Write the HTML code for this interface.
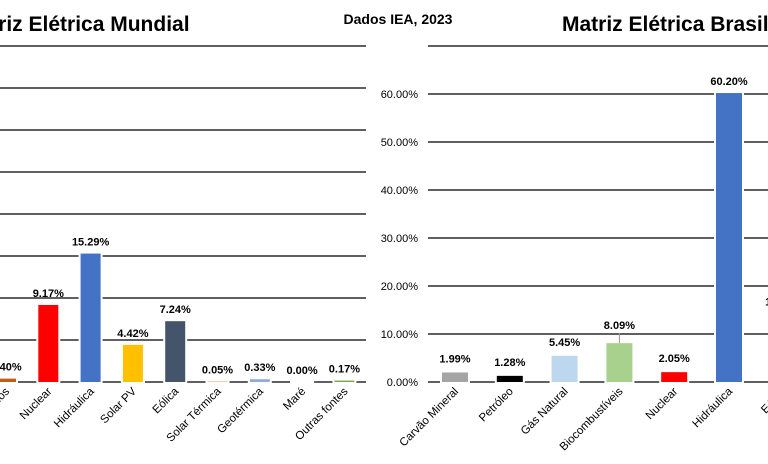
<!DOCTYPE html>
<html><head><meta charset="utf-8"><style>
html,body{margin:0;padding:0;background:#fff;}
svg{display:block;font-family:"Liberation Sans",sans-serif;}
</style></head><body>
<svg id="c" width="768" height="464" viewBox="0 0 768 464">
<text x="-38" y="31" font-size="21" font-weight="bold">Matriz Elétrica Mundial</text>
<text x="398" y="24" font-size="14" font-weight="bold" text-anchor="middle">Dados IEA, 2023</text>
<text x="562" y="31" font-size="21" font-weight="bold">Matriz Elétrica Brasil</text>
<g id="left"></g><g id="right"></g>
</svg>
<script>
const worldCats=["Resíduos","Nuclear","Hidráulica","Solar PV","Eólica","Solar Térmica","Geotérmica","Maré","Outras fontes"];
const worldVals=[0.40,9.17,15.29,4.42,7.24,0.05,0.33,0.00,0.17];
const worldColors=["#c55a11","#ff0000","#4472c4","#ffc000","#44546a","#ed7d31","#8faadc","#5b9bd5","#70ad47"];
const worldGrid=[0,5,10,15,20,25,30,35,40];
const brCats=["Carvão Mineral","Petróleo","Gás Natural","Biocombustíveis","Nuclear","Hidráulica","Eólica"];
const brVals=[1.99,1.28,5.45,8.09,2.05,60.20,13.20];
const brColors=["#a5a5a5","#000000","#bdd7ee","#a9d18e","#ff0000","#4472c4","#ffc000"];
const brTicks=[0,10,20,30,40,50,60,70];
const NS="http://www.w3.org/2000/svg";
function mk(p,t,a){const e=document.createElementNS(NS,t);for(const k in a)e.setAttribute(k,a[k]);p.appendChild(e);return e;}
const L=document.getElementById('left'),R=document.getElementById('right');
const ly=v=>382-v*8.4, lx=i=>6+42.3*i;
const ry=v=>382-v*4.8, rx=i=>455+54.8*i;
worldGrid.forEach(g=>{const l=mk(L,'line',{x1:0,x2:366,y1:ly(g),y2:ly(g),stroke:'#000','stroke-width':1.3});

});
worldVals.forEach((v,i)=>{const x=lx(i);
mk(L,'rect',{x:x-12,y:ly(v)-1,width:24,height:v*8.4+3,fill:'#fff'});
const b=mk(L,'rect',{x:x-10,y:ly(v),width:20,height:Math.max(v*8.4,0),fill:worldColors[i]});


const t=mk(L,'text',{x:x,y:ly(v)-8,'font-size':11,'font-weight':'bold','text-anchor':'middle'});t.textContent=worldVals[i].toFixed(2)+'%';


const c=mk(L,'text',{x:x+4,y:392,'font-size':11.5,'text-anchor':'end',transform:`rotate(-45 ${x+4} 392)`});c.textContent=worldCats[i];

});
brTicks.forEach(g=>{const l=mk(R,'line',{x1:428,x2:768,y1:ry(g),y2:ry(g),stroke:'#000','stroke-width':1.3});


if(g<70){const t=mk(R,'text',{x:418,y:ry(g)+4,'font-size':11,'text-anchor':'end'});t.textContent=g.toFixed(2)+'%';

}});
brVals.forEach((v,i)=>{const x=rx(i);
mk(R,'rect',{x:x-15,y:ry(v)-1,width:30,height:v*4.8+3,fill:'#fff'});
const b=mk(R,'rect',{x:x-13,y:ry(v),width:26,height:v*4.8,fill:brColors[i]});


let ty=ry(v)-10;
if(i===3){mk(R,'line',{x1:x,x2:x,y1:ry(v),y2:ry(v)-10,stroke:'#999'});ty=ry(v)-14;}
if(i===5)ty=ry(v)-8;
if(i===6)ty=ry(v)-13;
const t=mk(R,'text',{x:x,y:ty,'font-size':11,'font-weight':'bold','text-anchor':'middle'});t.textContent=v.toFixed(2)+'%';


const c=mk(R,'text',{x:x+4,y:392,'font-size':11.5,'text-anchor':'end',transform:`rotate(-45 ${x+4} 392)`});c.textContent=brCats[i];

});
</script>
</body></html>
